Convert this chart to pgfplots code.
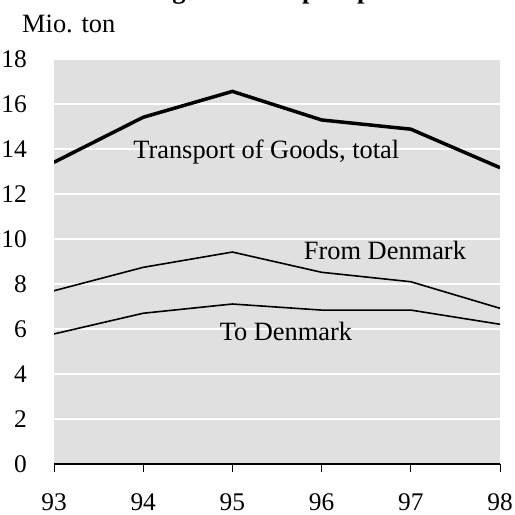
\documentclass[border=0pt]{standalone}
\usepackage{fontspec}
\setmainfont{Liberation Serif}
\usepackage{pgfplots}
\pgfplotsset{compat=1.18}
\definecolor{panel}{RGB}{224,224,224}

\begin{document}
\fontsize{26.5}{31}\selectfont
\begin{tikzpicture}[x=1bp,y=1bp,font=\fontsize{26.5}{31}\selectfont]
% title is cut off at the top edge in the original
\node[anchor=base west, inner sep=0pt, font=\fontsize{26.5}{31}\selectfont\bfseries] at (16,516.5) {International goods transport performance};
\node[anchor=base west, inner sep=0pt] at (22,482.7) {Mio. ton};
\begin{axis}[
  at={(54bp,51bp)}, anchor=south west,
  width=446bp, height=405bp, scale only axis,
  xmin=93, xmax=98, ymin=0, ymax=18,
  xtick={93,94,95,96,97,98}, ytick={0,2,...,18},
  /pgf/number format/assume math mode=true,
  tick label style={font=\fontsize{25.5}{30}\selectfont},
  axis lines*=left,
  y axis line style={draw=none},
  ytick style={draw=none},
  x axis line style={black, line width=1.2bp},
  xtick style={black, line width=1bp},
  tick align=outside, major tick length=8bp,
  axis background/.style={fill=panel},
  ymajorgrids, grid style={white, line width=1.5bp},
  yticklabel style={anchor=east, inner sep=0pt, xshift=-19bp},
  xticklabel style={anchor=north, inner sep=0pt, yshift=-21bp},
]
\addplot[black, line width=3.5bp] coordinates {(93,13.41) (94,15.41) (95,16.56) (96,15.29) (97,14.88) (98,13.17)};
\addplot[black, line width=1.6bp] coordinates {(93,7.70) (94,8.74) (95,9.42) (96,8.52) (97,8.10) (98,6.92)};
\addplot[black, line width=1.6bp] coordinates {(93,5.78) (94,6.70) (95,7.11) (96,6.84) (97,6.84) (98,6.21)};
\node[anchor=base] at (axis cs:95.38,13.56) {Transport of Goods, total};
\node[anchor=base] at (axis cs:96.71,9.10) {From Denmark};
\node[anchor=base] at (axis cs:95.60,5.47) {To Denmark};
\end{axis}
\pgfresetboundingbox
\useasboundingbox (0,0) rectangle (515,515);
\end{tikzpicture}
\end{document}
